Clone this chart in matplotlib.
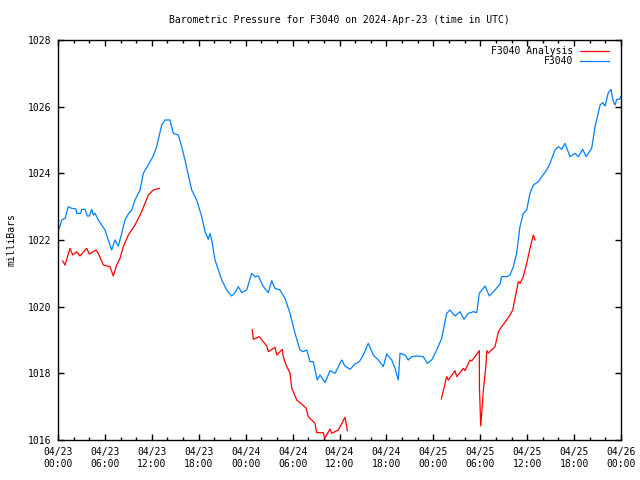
#!/usr/bin/env python3
import matplotlib
matplotlib.use('Agg')
import matplotlib.pyplot as plt
from matplotlib.ticker import MultipleLocator

# hours since 04/23 00:00 UTC and pressure in mb
obs_hours = [0.17, 0.47, 0.9, 1.32, 1.75, 2.3, 2.39, 2.9, 3.03, 3.45, 3.75, 4.0, 4.31, 4.51, 4.73,
             5.15, 5.59, 6.01, 6.43, 6.87, 7.29, 7.71, 8.15, 8.57, 8.99, 9.43, 9.85, 10.49, 10.91,
             11.77, 12.19, 12.62, 13.26, 13.68, 14.32, 14.75, 15.39, 15.82, 16.24, 16.66, 17.1,
             17.74, 18.38, 18.8, 19.22, 19.44, 19.66, 20.08, 20.94, 21.57, 22.21, 22.64, 23.06,
             23.49, 24.13, 24.77, 25.19, 25.62, 26.26, 26.9, 27.33, 27.75, 28.39, 29.03, 29.67,
             30.31, 30.95, 31.37, 31.81, 32.23, 32.65, 33.16, 33.51, 34.15, 34.79, 35.43, 36.28,
             36.7, 37.34, 37.98, 38.53, 39.05, 39.68, 40.32, 40.96, 41.6, 42.04, 42.68, 43.1,
             43.52, 43.74, 44.38, 44.8, 45.23, 45.87, 46.72, 47.23, 47.79, 48.43, 49.07, 49.71,
             50.13, 50.77, 51.41, 51.92, 52.47, 53.11, 53.55, 53.88, 54.61, 55.16, 55.89, 56.53,
             56.74, 57.38, 57.81, 58.23, 58.66, 59.08, 59.51, 59.94, 60.36, 60.79, 61.43, 61.86,
             62.5, 62.92, 63.56, 63.98, 64.42, 64.84, 65.48, 66.12, 66.54, 67.1, 67.53, 68.25,
             68.68, 69.32, 69.66, 69.96, 70.38, 70.72, 71.02, 71.24, 71.45, 71.78, 72.0]
obs_mb = [1022.35, 1022.60, 1022.65, 1023.00, 1022.95, 1022.93, 1022.80, 1022.80, 1022.92, 1022.92,
          1022.72, 1022.72, 1022.92, 1022.75, 1022.80, 1022.60, 1022.45, 1022.30, 1022.00, 1021.70,
          1022.00, 1021.82, 1022.20, 1022.60, 1022.78, 1022.90, 1023.20, 1023.50, 1024.00, 1024.35,
          1024.52, 1024.80, 1025.45, 1025.60, 1025.60, 1025.20, 1025.15, 1024.80, 1024.40, 1023.95,
          1023.50, 1023.20, 1022.70, 1022.25, 1022.02, 1022.20, 1022.00, 1021.40, 1020.80, 1020.50,
          1020.32, 1020.42, 1020.60, 1020.42, 1020.50, 1021.00, 1020.90, 1020.92, 1020.60, 1020.42,
          1020.78, 1020.55, 1020.50, 1020.25, 1019.80, 1019.20, 1018.70, 1018.65, 1018.70, 1018.35,
          1018.35, 1017.80, 1017.95, 1017.72, 1018.08, 1018.00, 1018.40, 1018.22, 1018.12, 1018.28,
          1018.35, 1018.55, 1018.90, 1018.55, 1018.40, 1018.20, 1018.58, 1018.40, 1018.15, 1017.80,
          1018.60, 1018.55, 1018.40, 1018.50, 1018.52, 1018.50, 1018.30, 1018.40, 1018.70, 1019.05,
          1019.80, 1019.90, 1019.72, 1019.85, 1019.62, 1019.80, 1019.85, 1019.82, 1020.40, 1020.62,
          1020.32, 1020.50, 1020.68, 1020.90, 1020.90, 1020.95, 1021.20, 1021.60, 1022.40, 1022.80,
          1022.90, 1023.40, 1023.65, 1023.75, 1023.90, 1024.10, 1024.30, 1024.70, 1024.80, 1024.72,
          1024.90, 1024.50, 1024.60, 1024.50, 1024.72, 1024.50, 1024.75, 1025.40, 1026.05, 1026.12,
          1026.02, 1026.42, 1026.52, 1026.15, 1026.05, 1026.22, 1026.22, 1026.30]

# analysis comes in three separate runs
ana1_hours = [0.6, 0.9, 1.53, 1.88, 2.39, 2.81, 3.67, 4.0, 4.86, 5.15, 5.79, 6.65, 7.07, 7.51,
              7.93, 8.35, 8.99, 9.85, 10.7, 11.55, 12.19, 12.96]
ana1_mb = [1021.37, 1021.25, 1021.75, 1021.55, 1021.65, 1021.52, 1021.75, 1021.58, 1021.70, 1021.60,
           1021.25, 1021.20, 1020.92, 1021.25, 1021.45, 1021.80, 1022.15, 1022.45, 1022.85, 1023.35,
           1023.50, 1023.55]
ana2_hours = [24.85, 24.98, 25.74, 26.69, 26.9, 27.75, 27.97, 28.69, 28.81, 29.16, 29.67, 29.89,
              30.53, 31.72, 32.01, 32.87, 33.08, 33.93, 34.11, 34.79, 35.0, 35.85, 36.7, 36.83, 37.0]
ana2_mb = [1019.30, 1019.02, 1019.10, 1018.82, 1018.65, 1018.78, 1018.55, 1018.72, 1018.50, 1018.25,
           1018.01, 1017.56, 1017.20, 1016.96, 1016.70, 1016.50, 1016.22, 1016.22, 1016.05, 1016.33,
           1016.20, 1016.30, 1016.68, 1016.52, 1016.28]
ana3_hours = [49.02, 49.71, 49.92, 50.77, 50.99, 51.83, 52.05, 52.69, 52.91, 53.88, 53.9, 54.06,
              54.19, 54.4, 54.71, 54.84, 55.05, 55.89, 56.32, 56.74, 57.38, 57.81, 58.15, 58.45,
              58.87, 59.08, 59.51, 59.94, 60.36, 60.79, 61.0]
ana3_mb = [1017.23, 1017.90, 1017.80, 1018.08, 1017.90, 1018.15, 1018.08, 1018.40, 1018.37, 1018.68,
           1017.58, 1016.42, 1016.81, 1017.50, 1018.19, 1018.68, 1018.61, 1018.80, 1019.25, 1019.40,
           1019.60, 1019.75, 1019.90, 1020.25, 1020.75, 1020.70, 1020.90, 1021.30, 1021.75, 1022.15,
           1022.00]

tick_labels = ['04/23\n00:00', '04/23\n06:00', '04/23\n12:00', '04/23\n18:00',
               '04/24\n00:00', '04/24\n06:00', '04/24\n12:00', '04/24\n18:00',
               '04/25\n00:00', '04/25\n06:00', '04/25\n12:00', '04/25\n18:00',
               '04/26\n00:00']

plt.rcParams['font.family'] = 'DejaVu Sans Mono'
plt.rcParams['font.size'] = 7

fig = plt.figure(figsize=(6.4, 4.8), dpi=100)
ax = fig.add_axes((58/640, 40/480, 563/640, 400/480))

red = '#ff0000'
blue = '#0080ff'
ax.plot(ana1_hours, ana1_mb, color=red, lw=0.9, label='F3040 Analysis')
ax.plot(ana2_hours, ana2_mb, color=red, lw=0.9)
ax.plot(ana3_hours, ana3_mb, color=red, lw=0.9)
ax.plot(obs_hours, obs_mb, color=blue, lw=0.9, label='F3040')

ax.set_xlim(0, 72)
ax.set_ylim(1016, 1028)
ax.set_xticks(range(0, 73, 6))
ax.set_xticklabels(tick_labels)
ax.xaxis.set_minor_locator(MultipleLocator(2))
ax.set_yticks(range(1016, 1029, 2))
ax.tick_params(which='both', direction='in', top=True, right=True, width=1)
ax.tick_params(which='major', length=4.5, pad=5)
ax.tick_params(which='minor', length=2.5)
for s in ax.spines.values():
    s.set_linewidth(1)

ax.set_title('Barometric Pressure for F3040 on 2024-Apr-23 (time in UTC)', fontsize=7, pad=12)
ax.set_ylabel('milliBars', labelpad=8)

ax.legend(loc='upper right', bbox_to_anchor=(0.982, 0.99), frameon=False, markerfirst=False,
          handlelength=3.0, borderaxespad=0, borderpad=0.2, labelspacing=0.05, handletextpad=0.7)

fig.savefig('out.png', dpi=100)
